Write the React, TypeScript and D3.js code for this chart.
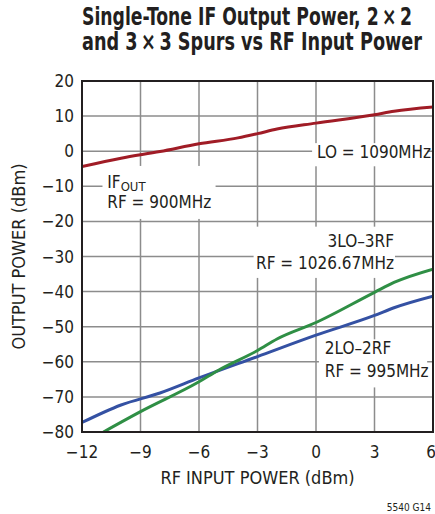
// react
import React from 'react';
// d3
import * as d3 from 'd3';

const svgWidth = 435;
const svgHeight = 514;
const margin = { left: 82, right: 2, top: 81, bottom: 82 };
const width = svgWidth - margin.left - margin.right;
const height = svgHeight - margin.top - margin.bottom;

const FONT = "'Liberation Sans Narrow', 'DejaVu Sans Condensed', 'Liberation Sans', Arial, sans-serif";

// x ticks (RF input power, dBm) and y ticks (output power, dBm)
const X_TICKS = [-12, -9, -6, -3, 0, 3, 6];
const Y_TICKS = [20, 10, 0, -10, -20, -30, -40, -50, -60, -70, -80];

// IF out, RF = 900MHz
const ifX = [-12, -10, -8, -6, -4, -3, -2, 0, 3, 4, 6];
const ifY = [-4.4, -2.0, -0.1, 2.1, 3.8, 5.0, 6.3, 8.0, 10.4, 11.4, 12.6];

// 2LO-2RF, RF = 995MHz
const spur2X = [-12, -10, -8, -6, -3, 0, 3, 4, 6];
const spur2Y = [-77.3, -72.3, -68.9, -64.6, -58.5, -52.4, -46.8, -44.6, -41.3];

// 3LO-3RF, RF = 1026.67MHz
const spur3X = [-10.9, -9, -6, -5, -3, -2, 0, 3, 4, 6];
const spur3Y = [-80, -74.2, -65.7, -62.4, -56.8, -53.5, -48.8, -40.2, -37.4, -33.6];

const SERIES = [
  { name: 'if', xs: ifX, ys: ifY, color: '#a01c26' },
  { name: 'spur2', xs: spur2X, ys: spur2Y, color: '#3451a3' },
  { name: 'spur3', xs: spur3X, ys: spur3Y, color: '#2f8f45' },
];

const TITLE_1 = 'Single-Tone IF Output Power, 2\u2009\u00d7\u20092';
const TITLE_2 = 'and 3\u2009\u00d7\u20093 Spurs vs RF Input Power';

const xScale = d3.scaleLinear().domain([-12, 6]).range([0, width]);
const yScale = d3.scaleLinear().domain([-80, 20]).range([height, 0]);

const line = d3.line<[number, number]>()
  .x(d => xScale(d[0]))
  .y(d => yScale(d[1]))
  .curve(d3.curveMonotoneX);

const fmt = (v: number) => (v < 0 ? '\u2212' + Math.abs(v) : String(v));

// white label backgrounds, in data units: [x0, x1, y0, y1]
const LABEL_BOXES = [
  [-10.95, -5.15, -4.2, -19.3],
  [-0.2, 5.7, 2.3, -4.3],
  [-3.2, 4.05, -21.5, -36.1],
  [0.15, 5.7, -53.6, -67.3],
];

const App = () => {
  return (
    <svg width={svgWidth} height={svgHeight}
      style={{ position: 'absolute', left: 0, top: 0, background: '#fff' }}
      fontFamily={FONT}>
      <text x={82} y={25} fontSize={25} fontWeight="bold" fill="#231f20"
        textLength={330} lengthAdjust="spacingAndGlyphs">{TITLE_1}</text>
      <text x={82} y={50} fontSize={25} fontWeight="bold" fill="#231f20"
        textLength={340} lengthAdjust="spacingAndGlyphs">{TITLE_2}</text>

      <defs>
        <clipPath id="plotClip">
          <rect x={0} y={0} width={width} height={height} />
        </clipPath>
      </defs>

      <g transform={`translate(${margin.left},${margin.top})`}>
        {X_TICKS.slice(1, -1).map(t => (
          <line key={'gx' + t} x1={xScale(t)} x2={xScale(t)} y1={0} y2={height}
            stroke="#8c8c8c" strokeWidth={1.5} />
        ))}
        {Y_TICKS.slice(1, -1).map(t => (
          <line key={'gy' + t} x1={0} x2={width} y1={yScale(t)} y2={yScale(t)}
            stroke="#8c8c8c" strokeWidth={1.5} />
        ))}

        {LABEL_BOXES.map((b, i) => (
          <rect key={'box' + i} x={xScale(b[0])} y={yScale(b[2])}
            width={xScale(b[1]) - xScale(b[0])} height={yScale(b[3]) - yScale(b[2])} fill="#fff" />
        ))}

        <g clipPath="url(#plotClip)">
          {SERIES.map(s => (
            <path key={s.name} d={line(s.xs.map((x, i) => [x, s.ys[i]] as [number, number])) || ''}
              fill="none" stroke={s.color} strokeWidth={3} strokeLinejoin="round" />
          ))}
        </g>

        <rect x={0} y={0} width={width} height={height} fill="none" stroke="#231f20" strokeWidth={2} />

        {Y_TICKS.map(t => (
          <text key={'ty' + t} x={-8} y={yScale(t) + 6} textAnchor="end" fontSize={17} fill="#231f20">{fmt(t)}</text>
        ))}
        {X_TICKS.map(t => (
          <text key={'tx' + t} x={t === 6 ? width + 3 : xScale(t)} y={height + 26}
            textAnchor={t === 6 ? 'end' : 'middle'} fontSize={17} fill="#231f20">{fmt(t)}</text>
        ))}

        <g fontSize={17} fill="#231f20">
          <text x={xScale(-10.7)} y={yScale(-10.4)}>IF<tspan fontSize={13} dy={3}>OUT</tspan></text>
          <text x={xScale(-10.7)} y={yScale(-16.3)}>RF = 900MHz</text>
          <text x={xScale(0.05)} y={yScale(-2.0)}>LO = 1090MHz</text>
          <text x={xScale(4.0)} y={yScale(-27.2)} textAnchor="end">3LO{'\u2013'}3RF</text>
          <text x={xScale(4.0)} y={yScale(-33.5)} textAnchor="end">RF = 1026.67MHz</text>
          <text x={xScale(0.45)} y={yScale(-57.9)}>2LO{'\u2013'}2RF</text>
          <text x={xScale(0.45)} y={yScale(-64.2)}>RF = 995MHz</text>
        </g>

        <text x={width / 2} y={height + 52} textAnchor="middle" fontSize={18} fill="#231f20">RF INPUT POWER (dBm)</text>
        <text transform={`translate(${-57},${height / 2}) rotate(-90)`} textAnchor="middle" fontSize={18} fill="#231f20">OUTPUT POWER (dBm)</text>
      </g>

      <text x={431} y={511} textAnchor="end" fontSize={10} fill="#231f20">5540 G14</text>
    </svg>
  );
};

export default App;
